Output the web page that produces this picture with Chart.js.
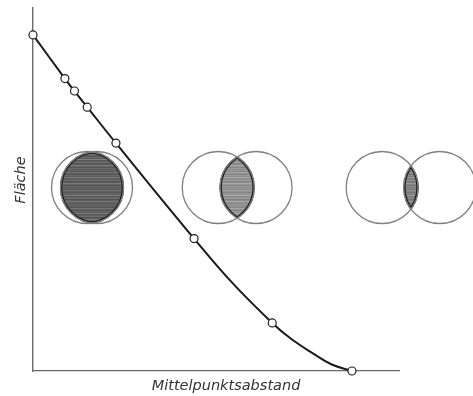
<!DOCTYPE html>
<html>
<head>
<meta charset="utf-8">
<script src="https://cdn.jsdelivr.net/npm/chart.js@4"></script>
<style>
  html, body { margin: 0; background: #fff; }
  #wrap { width: 473px; height: 396px; }
</style>
</head>
<body>
<div id="wrap"><canvas id="flaeche"></canvas></div>
<script>
// Messpunkte: Mittelpunktsabstand (in Radien) und Überdeckungsfläche (Anteil der Kreisfläche)
const abstand = [0, 0.20, 0.26, 0.34, 0.52, 1.01, 1.50, 2.00];
const flaeche = [1.00, 0.870, 0.833, 0.785, 0.678, 0.394, 0.143, 0.0];

// Verlauf der ausgezogenen Kurve
const kurveX = [0, 0.20, 0.26, 0.34, 0.52, 1.01, 1.25, 1.50, 1.62, 1.75, 1.87, 2.00];
const kurveY = [1.00, 0.870, 0.833, 0.785, 0.678, 0.394, 0.262, 0.143, 0.095, 0.054, 0.020, 0.0];

// Abstand d/r der drei Kreisskizzen
const kreisAbstand = [0.25, 1.05, 1.6];
// Grauton der schraffierten Linse je Skizze
const linsenTon = [92, 140, 124];
const streifen = [0, 10, -6, 25, 4, -8, 14, 0, 34, -4, 6, 18, -10, 2, 26, 8, -6, 12];

const achsenText = {
  id: 'achsenText',
  afterDraw(chart) {
    const { ctx, chartArea } = chart;
    ctx.save();
    ctx.fillStyle = '#333';
    ctx.font = 'italic 14.5px "DejaVu Sans"';
    ctx.textAlign = 'center';
    ctx.textBaseline = 'middle';
    ctx.fillText('Mittelpunktsabstand', 226, chartArea.bottom + 15);
    ctx.translate(21, 180);
    ctx.rotate(-Math.PI / 2);
    ctx.fillText('Fläche', 0, 0);
    ctx.restore();
  }
};

const skizzen = {
  id: 'skizzen',
  beforeDatasetsDraw(chart) {
    const { ctx, scales: { x, y } } = chart;
    const r = 36;
    const mitten = [[0.37, 0.546], [1.28, 0.546], [2.37, 0.546]];
    kreisAbstand.forEach((q, i) => {
      const cx = x.getPixelForValue(mitten[i][0]);
      const cy = y.getPixelForValue(mitten[i][1]);
      const d = q * r;
      const a = cx - d / 2, b = cx + d / 2;

      // schraffierte Linse
      ctx.save();
      ctx.beginPath(); ctx.arc(a, cy, r, 0, 2 * Math.PI); ctx.clip();
      ctx.beginPath(); ctx.arc(b, cy, r, 0, 2 * Math.PI); ctx.clip();
      const top = Math.round(cy - r);
      for (let yy = top; yy < cy + r; yy++) {
        const g = linsenTon[i] + streifen[(yy - top) % streifen.length];
        ctx.fillStyle = `rgb(${g},${g},${g})`;
        ctx.fillRect(cx - r - d, yy, 2 * r + 2 * d, 1);
      }
      ctx.restore();

      // Rand der Linse
      ctx.lineWidth = 2.4;
      ctx.strokeStyle = '#1e1e1e';
      [[a, b], [b, a]].forEach(([c1, c2]) => {
        ctx.save();
        ctx.beginPath(); ctx.arc(c1, cy, r, 0, 2 * Math.PI); ctx.clip();
        ctx.beginPath(); ctx.arc(c2, cy, r - 0.6, 0, 2 * Math.PI); ctx.stroke();
        ctx.restore();
      });

      // beide Kreise
      ctx.save();
      ctx.lineWidth = 1.3;
      ctx.strokeStyle = '#808080';
      [a, b].forEach(c => {
        ctx.beginPath(); ctx.arc(c, cy, r, 0, 2 * Math.PI); ctx.stroke();
      });
      ctx.restore();
    });
  }
};

new Chart(document.getElementById('flaeche'), {
  type: 'line',
  data: {
    datasets: [{
      data: kurveX.map((v, i) => ({ x: v, y: kurveY[i] })),
      borderColor: '#1a1a1a',
      borderWidth: 2,
      tension: 0.4,
      pointRadius: 0,
      clip: false,
      order: 2
    }, {
      data: abstand.map((v, i) => ({ x: v, y: flaeche[i] })),
      showLine: false,
      pointRadius: 4,
      pointHoverRadius: 4,
      pointBackgroundColor: '#fff',
      pointBorderColor: '#222',
      pointBorderWidth: 1.2,
      clip: false,
      order: 1
    }]
  },
  options: {
    responsive: true,
    maintainAspectRatio: false,
    animation: false,
    events: [],
    layout: { padding: { left: 33, top: 8, right: 74, bottom: 25 } },
    plugins: { legend: { display: false }, tooltip: { enabled: false } },
    scales: {
      x: {
        type: 'linear', min: 0, max: 2.295,
        grid: { display: false, drawTicks: false },
        ticks: { display: false },
        border: { color: '#6a6a6a', width: 1.2 },
        afterFit: s => { s.height = 0; }
      },
      y: {
        min: 0, max: 1.08,
        grid: { display: false, drawTicks: false },
        ticks: { display: false },
        border: { color: '#6a6a6a', width: 1.4 },
        afterFit: s => { s.width = 0; }
      }
    }
  },
  plugins: [skizzen, achsenText]
});
</script>
</body>
</html>
